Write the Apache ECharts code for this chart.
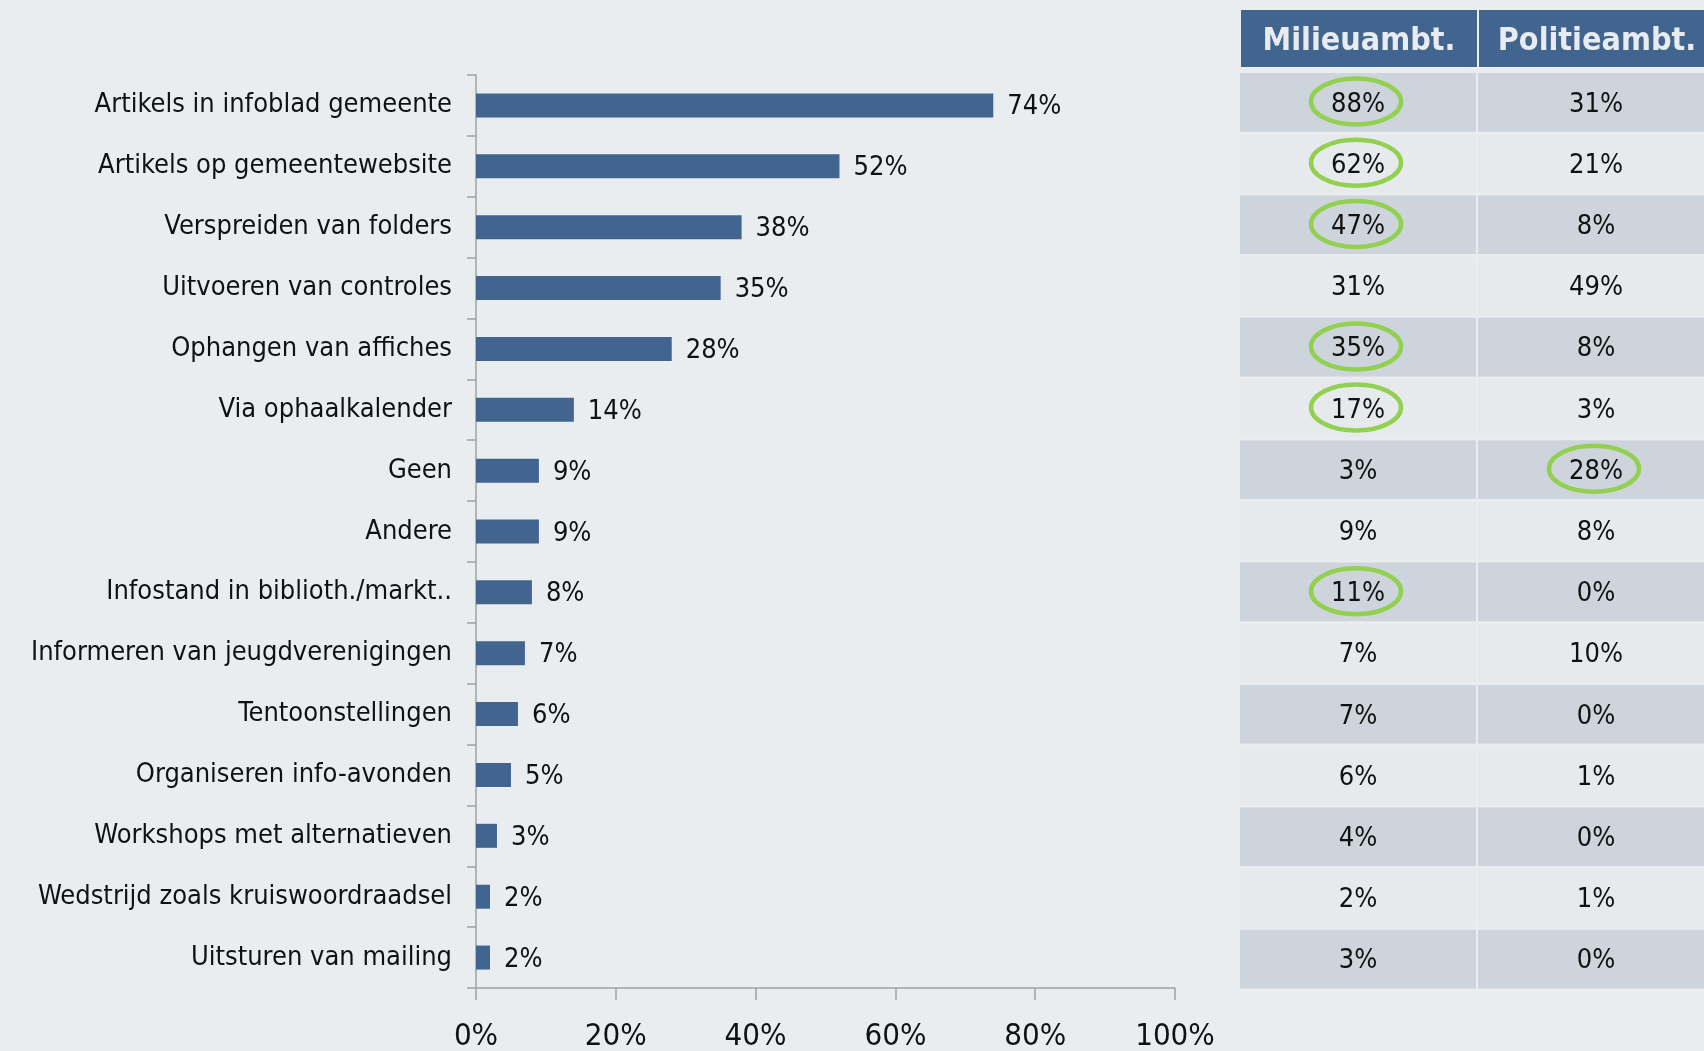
<!DOCTYPE html>
<html>
<head>
<meta charset="utf-8">
<script src="https://cdn.jsdelivr.net/npm/echarts@6/dist/echarts.min.js"></script>
<style>
  html, body { margin: 0; padding: 0; background: #eaedef; }
  #chart { width: 1704px; height: 1051px; }
</style>
</head>
<body>
<div id="chart"></div>
<script>
const categories = [
  'Artikels in infoblad gemeente',
  'Artikels op gemeentewebsite',
  'Verspreiden van folders',
  'Uitvoeren van controles',
  'Ophangen van affiches',
  'Via ophaalkalender',
  'Geen',
  'Andere',
  'Infostand in biblioth./markt..',
  'Informeren van jeugdverenigingen',
  'Tentoonstellingen',
  'Organiseren info-avonden',
  'Workshops met alternatieven',
  'Wedstrijd zoals kruiswoordraadsel',
  'Uitsturen van mailing',
]
const totals = [74, 52, 38, 35, 28, 14, 9, 9, 8, 7, 6, 5, 3, 2, 2]

const tableColumns = ['Milieuambt.', 'Politieambt.']
const milieu = [88, 62, 47, 31, 35, 17, 3, 9, 11, 7, 7, 6, 4, 2, 3]
const politie = [31, 21, 8, 49, 8, 3, 28, 8, 0, 10, 0, 1, 0, 1, 0]
// rows that are circled in green
const milieuCircled = [0, 1, 2, 4, 5, 8]
const politieCircled = [6]

const xTicks = [0, 20, 40, 60, 80, 100]

const font = "'DejaVu Sans Condensed', 'Liberation Sans', Arial, sans-serif"
const textColor = '#111111'
const barColor = '#41658f'

const tableData = []
milieu.forEach((v, i) => tableData.push([0, i, v, milieuCircled.includes(i) ? 1 : 0]))
politie.forEach((v, i) => tableData.push([1, i, v, politieCircled.includes(i) ? 1 : 0]))

const chart = echarts.init(document.getElementById('chart'))

chart.setOption({
  backgroundColor: '#eaedef',
  animation: false,
  grid: [
    { left: 476, top: 75, width: 699, height: 913, outerBoundsMode: 'none' },
    { left: 1240, top: 73, width: 476, height: 918, outerBoundsMode: 'none' },
  ],
  xAxis: [
    {
      type: 'value',
      gridIndex: 0,
      min: xTicks[0],
      max: xTicks[xTicks.length - 1],
      interval: xTicks[1] - xTicks[0],
      splitLine: { show: false },
      axisLine: { show: true, lineStyle: { color: '#a0a0a0', width: 1.5 } },
      axisTick: { show: true, length: 12, lineStyle: { color: '#a0a0a0', width: 1.5 } },
      axisLabel: {
        formatter: '{value}%',
        fontSize: 31,
        fontFamily: font,
        color: textColor,
        margin: 33,
      },
    },
    {
      type: 'category',
      gridIndex: 1,
      position: 'top',
      data: tableColumns,
      axisLine: { show: false },
      axisTick: { show: false },
      axisLabel: {
        interval: 0,
        margin: 6,
        fontSize: 32,
        fontWeight: 'bold',
        fontFamily: font,
        color: '#e8ecf0',
        backgroundColor: barColor,
        width: 236,
        height: 51,
        lineHeight: 51,
        padding: [6, 0, 0, 0],
        align: 'center',
        verticalAlign: 'bottom',
      },
    },
  ],
  yAxis: [
    {
      type: 'category',
      gridIndex: 0,
      inverse: true,
      data: categories,
      axisLine: { show: true, lineStyle: { color: '#a0a0a0', width: 1.5 } },
      axisTick: { show: true, length: 9, lineStyle: { color: '#a0a0a0', width: 1.5 } },
      axisLabel: {
        fontSize: 27,
        fontFamily: font,
        color: textColor,
        margin: 24,
        padding: [4, 0, 0, 0],
      },
    },
    {
      type: 'category',
      gridIndex: 1,
      inverse: true,
      data: categories,
      show: false,
    },
  ],
  series: [
    {
      type: 'bar',
      xAxisIndex: 0,
      yAxisIndex: 0,
      data: totals,
      barWidth: 24,
      itemStyle: { color: barColor },
      label: {
        show: true,
        position: 'right',
        distance: 14,
        offset: [0, 2],
        formatter: '{c}%',
        fontSize: 27,
        fontFamily: font,
        color: textColor,
      },
    },
    {
      type: 'custom',
      xAxisIndex: 1,
      yAxisIndex: 1,
      clip: false,
      data: tableData,
      renderItem(params, api) {
        const col = api.value(0)
        const row = api.value(1)
        const c = api.coord([col, row])
        const s = api.size([1, 1])
        const children = [
          {
            type: 'rect',
            shape: { x: c[0] - s[0] / 2, y: c[1] - s[1] / 2, width: s[0] - 2, height: s[1] - 2.5 },
            style: { fill: row % 2 === 0 ? '#ced4dc' : '#e7eaed' },
          },
          {
            type: 'text',
            style: {
              text: api.value(2) + '%',
              x: c[0] - 1,
              y: c[1] + 1,
              align: 'center',
              verticalAlign: 'middle',
              fontSize: 27,
              fontFamily: font,
              fill: textColor,
            },
          },
        ]
        if (api.value(3)) {
          children.push({
            type: 'ellipse',
            shape: { cx: c[0] - 3, cy: c[1] - 2, rx: 45, ry: 23 },
            style: { fill: 'none', stroke: '#92d050', lineWidth: 4.5 },
          })
        }
        return { type: 'group', children }
      },
    },
  ],
})

window.addEventListener('resize', () => chart.resize())
</script>
</body>
</html>
